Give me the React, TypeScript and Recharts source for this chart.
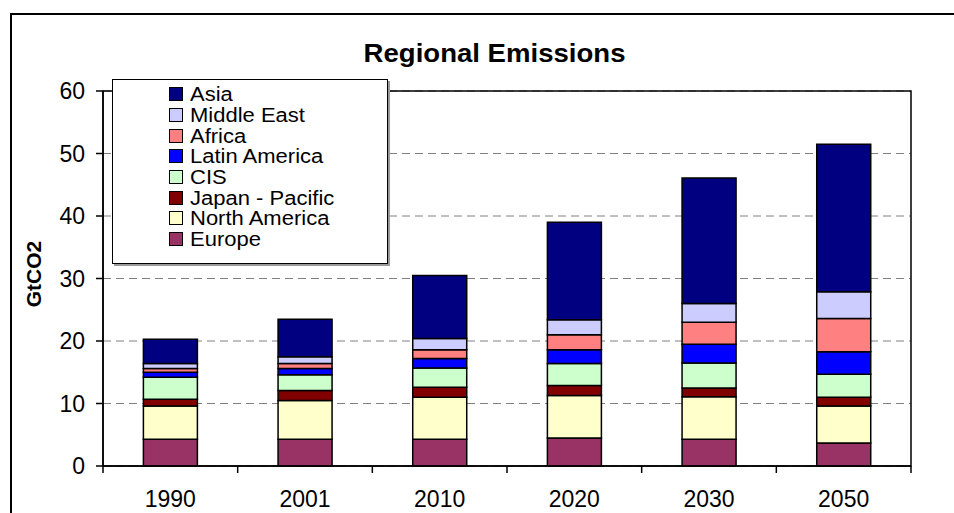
import React from "react";
import {
  BarChart,
  Bar,
  XAxis,
  YAxis,
  CartesianGrid,
  Legend,
  ReferenceArea,
} from "recharts";

const years = ["1990", "2001", "2010", "2020", "2030", "2050"];
const europe = [4.3, 4.3, 4.3, 4.5, 4.3, 3.7];
const northAmerica = [5.3, 6.2, 6.7, 6.8, 6.8, 5.9];
const japanPacific = [1.1, 1.6, 1.6, 1.6, 1.4, 1.4];
const cis = [3.5, 2.5, 3.1, 3.5, 4.0, 3.7];
const latinAmerica = [0.8, 1.0, 1.5, 2.2, 3.0, 3.6];
const africa = [0.6, 0.8, 1.4, 2.4, 3.5, 5.3];
const middleEast = [0.8, 1.1, 1.8, 2.4, 3.0, 4.3];
const asia = [3.9, 6.0, 10.1, 15.6, 20.1, 23.6];
const yTicks = [0, 10, 20, 30, 40, 50, 60];

// stacking order, bottom first
const series = [
  { key: "europe", name: "Europe", color: "#993366", values: europe },
  { key: "northAmerica", name: "North America", color: "#FFFFCC", values: northAmerica },
  { key: "japanPacific", name: "Japan - Pacific", color: "#800000", values: japanPacific },
  { key: "cis", name: "CIS", color: "#CCFFCC", values: cis },
  { key: "latinAmerica", name: "Latin America", color: "#0000FF", values: latinAmerica },
  { key: "africa", name: "Africa", color: "#FF8080", values: africa },
  { key: "middleEast", name: "Middle East", color: "#CCCCFF", values: middleEast },
  { key: "asia", name: "Asia", color: "#000080", values: asia },
];

const data = years.map((year, i) => {
  const row: Record<string, string | number> = { year };
  series.forEach((s) => {
    row[s.key] = s.values[i];
  });
  return row;
});

const W = 954;
const H = 513;
const PLOT_LEFT = 103;
const PLOT_RIGHT = 911;
const PLOT_TOP = 91;
const PLOT_BOTTOM = 466;
const STEP = (PLOT_RIGHT - PLOT_LEFT) / years.length;
const FONT = "'Liberation Sans', Arial, sans-serif";

const XTick = (props: any) => {
  const { x, payload, index } = props;
  return (
    <g>
      <line x1={x - STEP / 2} x2={x - STEP / 2} y1={PLOT_BOTTOM} y2={PLOT_BOTTOM + 7} stroke="#000" strokeWidth={1.5} />
      {index === years.length - 1 && (
        <line x1={x + STEP / 2} x2={x + STEP / 2} y1={PLOT_BOTTOM} y2={PLOT_BOTTOM + 7} stroke="#000" strokeWidth={1.5} />
      )}
      <text x={x} y={PLOT_BOTTOM + 41} textAnchor="middle" fontSize={23} fontFamily={FONT} fill="#000">
        {payload.value}
      </text>
    </g>
  );
};

const LegendBox = () => (
  <div
    style={{
      width: 274,
      height: 179,
      border: "1px solid #000",
      background: "#fff",
      boxShadow: "2px 2px 0 #999",
      boxSizing: "content-box",
      paddingTop: 4,
    }}
  >
    {[...series].reverse().map((s) => (
      <div
        key={s.key}
        style={{ display: "flex", alignItems: "center", height: 20.7, marginLeft: 56 }}
      >
        <span
          style={{
            width: 12,
            height: 12,
            background: s.color,
            border: "1px solid #000",
            marginRight: 7,
            flex: "none",
          }}
        />
        <span
          style={{
            fontFamily: FONT,
            fontSize: 20,
            lineHeight: "20px",
            color: "#000",
            display: "inline-block",
            transform: "scaleX(1.1)",
            transformOrigin: "left center",
            whiteSpace: "nowrap",
          }}
        >
          {s.name}
        </span>
      </div>
    ))}
  </div>
);

export default function App() {
  return (
    <div
      style={{
        position: "absolute",
        left: 0,
        top: 0,
        width: W,
        height: H,
        overflow: "hidden",
        background: "#fff",
      }}
    >
      <div
        style={{
          position: "absolute",
          left: 10,
          top: 13,
          width: 1000,
          height: 600,
          border: "2px solid #000",
        }}
      />
      <div
        style={{
          position: "absolute",
          left: 0,
          width: 990,
          top: 38,
          textAlign: "center",
          fontFamily: FONT,
          fontWeight: "bold",
          fontSize: 26,
          lineHeight: "30px",
        }}
      >
        <span style={{ display: "inline-block", transform: "scaleX(1.06)" }}>Regional Emissions</span>
      </div>
      <div
        style={{
          position: "absolute",
          left: 34,
          top: 274,
          transform: "translate(-50%, -50%) rotate(-90deg)",
          fontFamily: FONT,
          fontWeight: "bold",
          fontSize: 21,
          whiteSpace: "nowrap",
        }}
      >
        GtCO2
      </div>
      <BarChart
        width={W}
        height={H}
        data={data}
        margin={{ top: PLOT_TOP, right: W - PLOT_RIGHT, bottom: 7, left: PLOT_LEFT - 60 }}
        barCategoryGap="30%"
        style={{ position: "absolute", left: 0, top: 0 }}
      >
        <CartesianGrid vertical={false} stroke="#808080" strokeDasharray="8 5" />
        <ReferenceArea y1={0} y2={60} fill="none" stroke="#000" strokeWidth={1.5} />
        <XAxis
          dataKey="year"
          height={40}
          axisLine={{ stroke: "#000", strokeWidth: 1.5 }}
          tickLine={false}
          tick={<XTick />}
          interval={0}
        />
        <YAxis
          width={60}
          domain={[0, 60]}
          ticks={yTicks}
          axisLine={{ stroke: "#000", strokeWidth: 1.5 }}
          tickLine={{ stroke: "#000", strokeWidth: 1.5 }}
          tickSize={7}
          tickMargin={11}
          tick={{ fontSize: 23, fontFamily: FONT, fill: "#000" }}
        />
        <Legend
          layout="horizontal"
          verticalAlign="middle"
          align="center"
          content={() => <LegendBox />}
          wrapperStyle={{ position: "absolute", left: 112, top: 79, width: 278, height: 185 }}
        />
        {series.map((s) => (
          <Bar
            key={s.key}
            dataKey={s.key}
            name={s.name}
            stackId="a"
            fill={s.color}
            stroke="#000"
            strokeWidth={1.5}
            isAnimationActive={false}
          />
        ))}
      </BarChart>
    </div>
  );
}
